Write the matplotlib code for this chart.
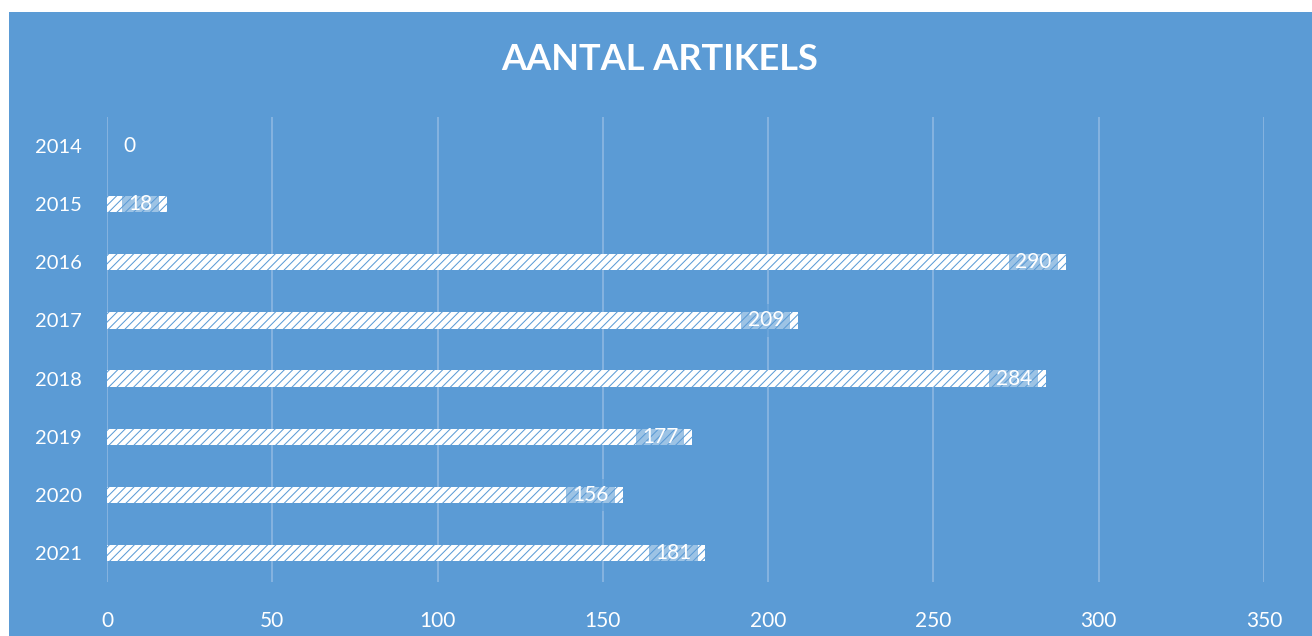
import matplotlib.pyplot as plt
import matplotlib as mpl
from matplotlib.patches import Rectangle

years = ['2014', '2015', '2016', '2017', '2018', '2019', '2020', '2021']
counts = [0, 18, 290, 209, 284, 177, 156, 181]
x_ticks = [0, 50, 100, 150, 200, 250, 300, 350]
title = 'AANTAL ARTIKELS'

bg = '#5B9BD5'
grid_col = '#8DB7E2'

mpl.rcParams['hatch.color'] = 'white'
mpl.rcParams['hatch.linewidth'] = 3.5
plt.rcParams['font.family'] = ['Lato', 'DejaVu Sans']


def main():
    fig = plt.figure(figsize=(13.12, 6.36), dpi=100)
    fig.patch.set_facecolor('white')
    # blue chart area (leaves a white strip at top and left)
    fig.patches.append(Rectangle((9 / 1312, 0), 1, 1 - 12 / 636,
                                 transform=fig.transFigure, facecolor=bg,
                                 edgecolor='none', zorder=-10))

    ax = fig.add_axes([107 / 1312, 54 / 636, 1157 / 1312, 465 / 636])
    ax.set_facecolor('none')

    pos = list(range(len(years)))
    bars = ax.barh(pos, counts, height=0.28, color=bg, edgecolor='white',
                   hatch='////', linewidth=0, zorder=3)
    for b in bars:
        if hasattr(b, 'set_hatch_linewidth'):
            b.set_hatch_linewidth(3.5)

    for i, v in enumerate(counts):
        if v == 0:
            ax.annotate(str(v), xy=(v, i), xytext=(12, 0), textcoords='offset points',
                        ha='left', va='center', color='white', fontsize=15, zorder=5)
        else:
            ax.annotate(str(v), xy=(v, i), xytext=(-10, 0), textcoords='offset points',
                        ha='right', va='center', color='white', fontsize=15, zorder=5,
                        bbox=dict(boxstyle='square,pad=0.3', facecolor=bg,
                                  edgecolor='none', alpha=0.6))

    ax.set_xlim(0, 350)
    ax.set_ylim(len(years) - 0.5, -0.5)
    ax.set_xticks(x_ticks)
    ax.set_yticks(pos)
    ax.set_yticklabels(years)
    ax.tick_params(axis='both', length=0, colors='white')
    ax.tick_params(axis='x', labelsize=15, pad=21)
    ax.tick_params(axis='y', labelsize=14.5, pad=18)
    ax.grid(axis='x', color=grid_col, linewidth=1.2, zorder=1)
    ax.set_axisbelow(True)
    for s in ax.spines.values():
        s.set_visible(False)

    fig.text(660 / 1312, 1 - 60 / 636, title, ha='center', va='center',
             color='white', fontsize=26, fontweight='bold')

    fig.savefig('out.png', dpi=100)


if __name__ == "__main__":
    main()
